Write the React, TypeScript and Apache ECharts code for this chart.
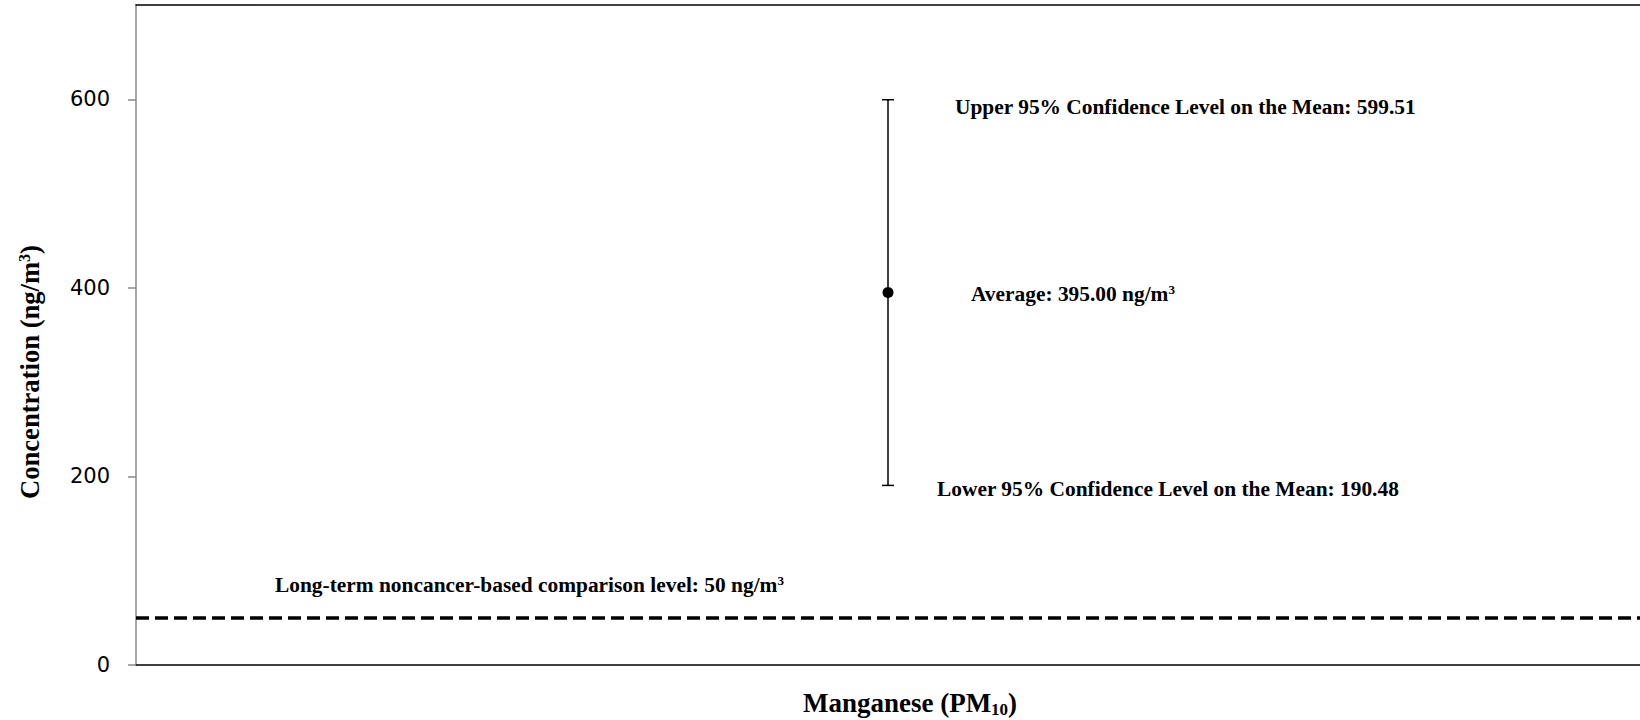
import React, { useEffect, useRef } from "react";
import * as echarts from "echarts";

const categories = ["Manganese (PM10)"];
const meanValues = [395.0];
const lowerCL = [190.48];
const upperCL = [599.51];
const comparisonLevel = 50;
const yTicks = [0, 200, 400, 600];

const SERIF = "'Liberation Serif', 'Times New Roman', serif";

export default function App() {
  const ref = useRef<HTMLDivElement>(null);
  useEffect(() => {
    if (!ref.current) return;
    const chart = echarts.init(ref.current, undefined, { renderer: "svg" });
    const data = categories.map((c, i) => [i, lowerCL[i], meanValues[i], upperCL[i]]);
    const txt = (text: string, size = 21.4) => ({
      text,
      fontFamily: SERIF,
      fontWeight: "bold",
      fontSize: size,
      fill: "#000",
      align: "left",
      verticalAlign: "middle",
      rich: {
        b: { fontFamily: SERIF, fontWeight: "bold", fontSize: size, fill: "#000", color: "#000" },
        sup: { fontFamily: SERIF, fontWeight: "bold", fontSize: Math.round(size * 0.62), fill: "#000", color: "#000", verticalAlign: "top", padding: [0, 0, 9, 0] },
      },
    });
    chart.setOption({
      animation: false,
      backgroundColor: "#fff",
      grid: { left: 136, right: -2, top: 5, bottom: 55 },
      xAxis: [
        {
          type: "category",
          data: categories,
          boundaryGap: true,
          axisLabel: { show: false },
          axisTick: { show: false },
          axisLine: { lineStyle: { color: "#000", width: 1.5 } },
        },
        {
          type: "category",
          data: categories,
          position: "top",
          axisLabel: { show: false },
          axisTick: { show: false },
          axisLine: { lineStyle: { color: "#000", width: 1.5 } },
        },
      ],
      yAxis: {
        type: "value",
        min: 0,
        max: 700,
        interval: 100,
        splitLine: { show: false },
        axisLine: { show: true, lineStyle: { color: "#8a8a8a", width: 1.5 } },
        axisTick: { show: true, length: 8, lineStyle: { color: "#8a8a8a", width: 1.5 }, customValues: yTicks },
        axisLabel: { customValues: yTicks, margin: 26, fontFamily: "'DejaVu Sans', sans-serif", fontSize: 21, color: "#000" },
      },
      series: [
        {
          type: "custom",
          data,
          renderItem: (params: any, api: any) => {
            const x = api.value(0);
            const low = api.value(1);
            const mean = api.value(2);
            const high = api.value(3);
            const pLow = api.coord([x, low]);
            const pHigh = api.coord([x, high]);
            const pMean = api.coord([x, mean]);
            const pComp = api.coord([x, comparisonLevel]);
            const gx = params.coordSys.x;
            const stroke = { stroke: "#000", lineWidth: 1.5 };
            return {
              type: "group",
              children: [
                { type: "line", shape: { x1: pLow[0], y1: pLow[1], x2: pHigh[0], y2: pHigh[1] }, style: stroke },
                { type: "line", shape: { x1: pLow[0] - 6, y1: pLow[1], x2: pLow[0] + 6, y2: pLow[1] }, style: stroke },
                { type: "line", shape: { x1: pHigh[0] - 6, y1: pHigh[1], x2: pHigh[0] + 6, y2: pHigh[1] }, style: stroke },
                { type: "circle", shape: { cx: pMean[0], cy: pMean[1], r: 5.5 }, style: { fill: "#000" } },
                {
                  type: "text",
                  x: pHigh[0] + 67,
                  y: pHigh[1] + 7,
                  style: txt(`{b|Upper 95% Confidence Level on the Mean: ${high.toFixed(2)}}`),
                },
                {
                  type: "text",
                  x: pMean[0] + 83,
                  y: pMean[1] + 1,
                  style: txt(`{b|Average: ${mean.toFixed(2)} ng/m}{sup|3}`),
                },
                {
                  type: "text",
                  x: pLow[0] + 49,
                  y: pLow[1] + 4,
                  style: txt(`{b|Lower 95% Confidence Level on the Mean: ${low.toFixed(2)}}`),
                },
                {
                  type: "text",
                  x: gx + 139,
                  y: pComp[1] - 33,
                  style: txt(`{b|Long-term noncancer-based comparison level: ${comparisonLevel} ng/m}{sup|3}`),
                },
              ],
            };
          },
          markLine: {
            silent: true,
            symbol: "none",
            label: { show: false },
            lineStyle: { color: "#000", type: [13, 6], width: 3.5 },
            data: [{ yAxis: comparisonLevel }],
          },
        },
      ],
      graphic: [
        {
          type: "text",
          x: 30,
          y: 372,
          rotation: Math.PI / 2,
          style: {
            text: "{b|Concentration (ng/m}{sup|3}{b|)}",
            align: "center",
            verticalAlign: "middle",
            rich: {
              b: { fontFamily: SERIF, fontWeight: "bold", fontSize: 26.6, color: "#000" },
              sup: { fontFamily: SERIF, fontWeight: "bold", fontSize: 16, color: "#000", verticalAlign: "top", padding: [0, 0, 11, 0] },
            },
          },
        },
        {
          type: "text",
          x: 910,
          y: 703,
          style: {
            text: "{b|Manganese (PM}{sub|10}{b|)}",
            align: "center",
            verticalAlign: "middle",
            rich: {
              b: { fontFamily: SERIF, fontWeight: "bold", fontSize: 27, color: "#000" },
              sub: { fontFamily: SERIF, fontWeight: "bold", fontSize: 17, color: "#000", verticalAlign: "bottom", padding: [12, 0, 0, 0] },
            },
          },
        },
      ],
    });
    return () => chart.dispose();
  }, []);
  return (
    <div
      ref={ref}
      style={{ position: "fixed", left: 0, top: 0, width: 1640, height: 720, background: "#fff" }}
    />
  );
}
